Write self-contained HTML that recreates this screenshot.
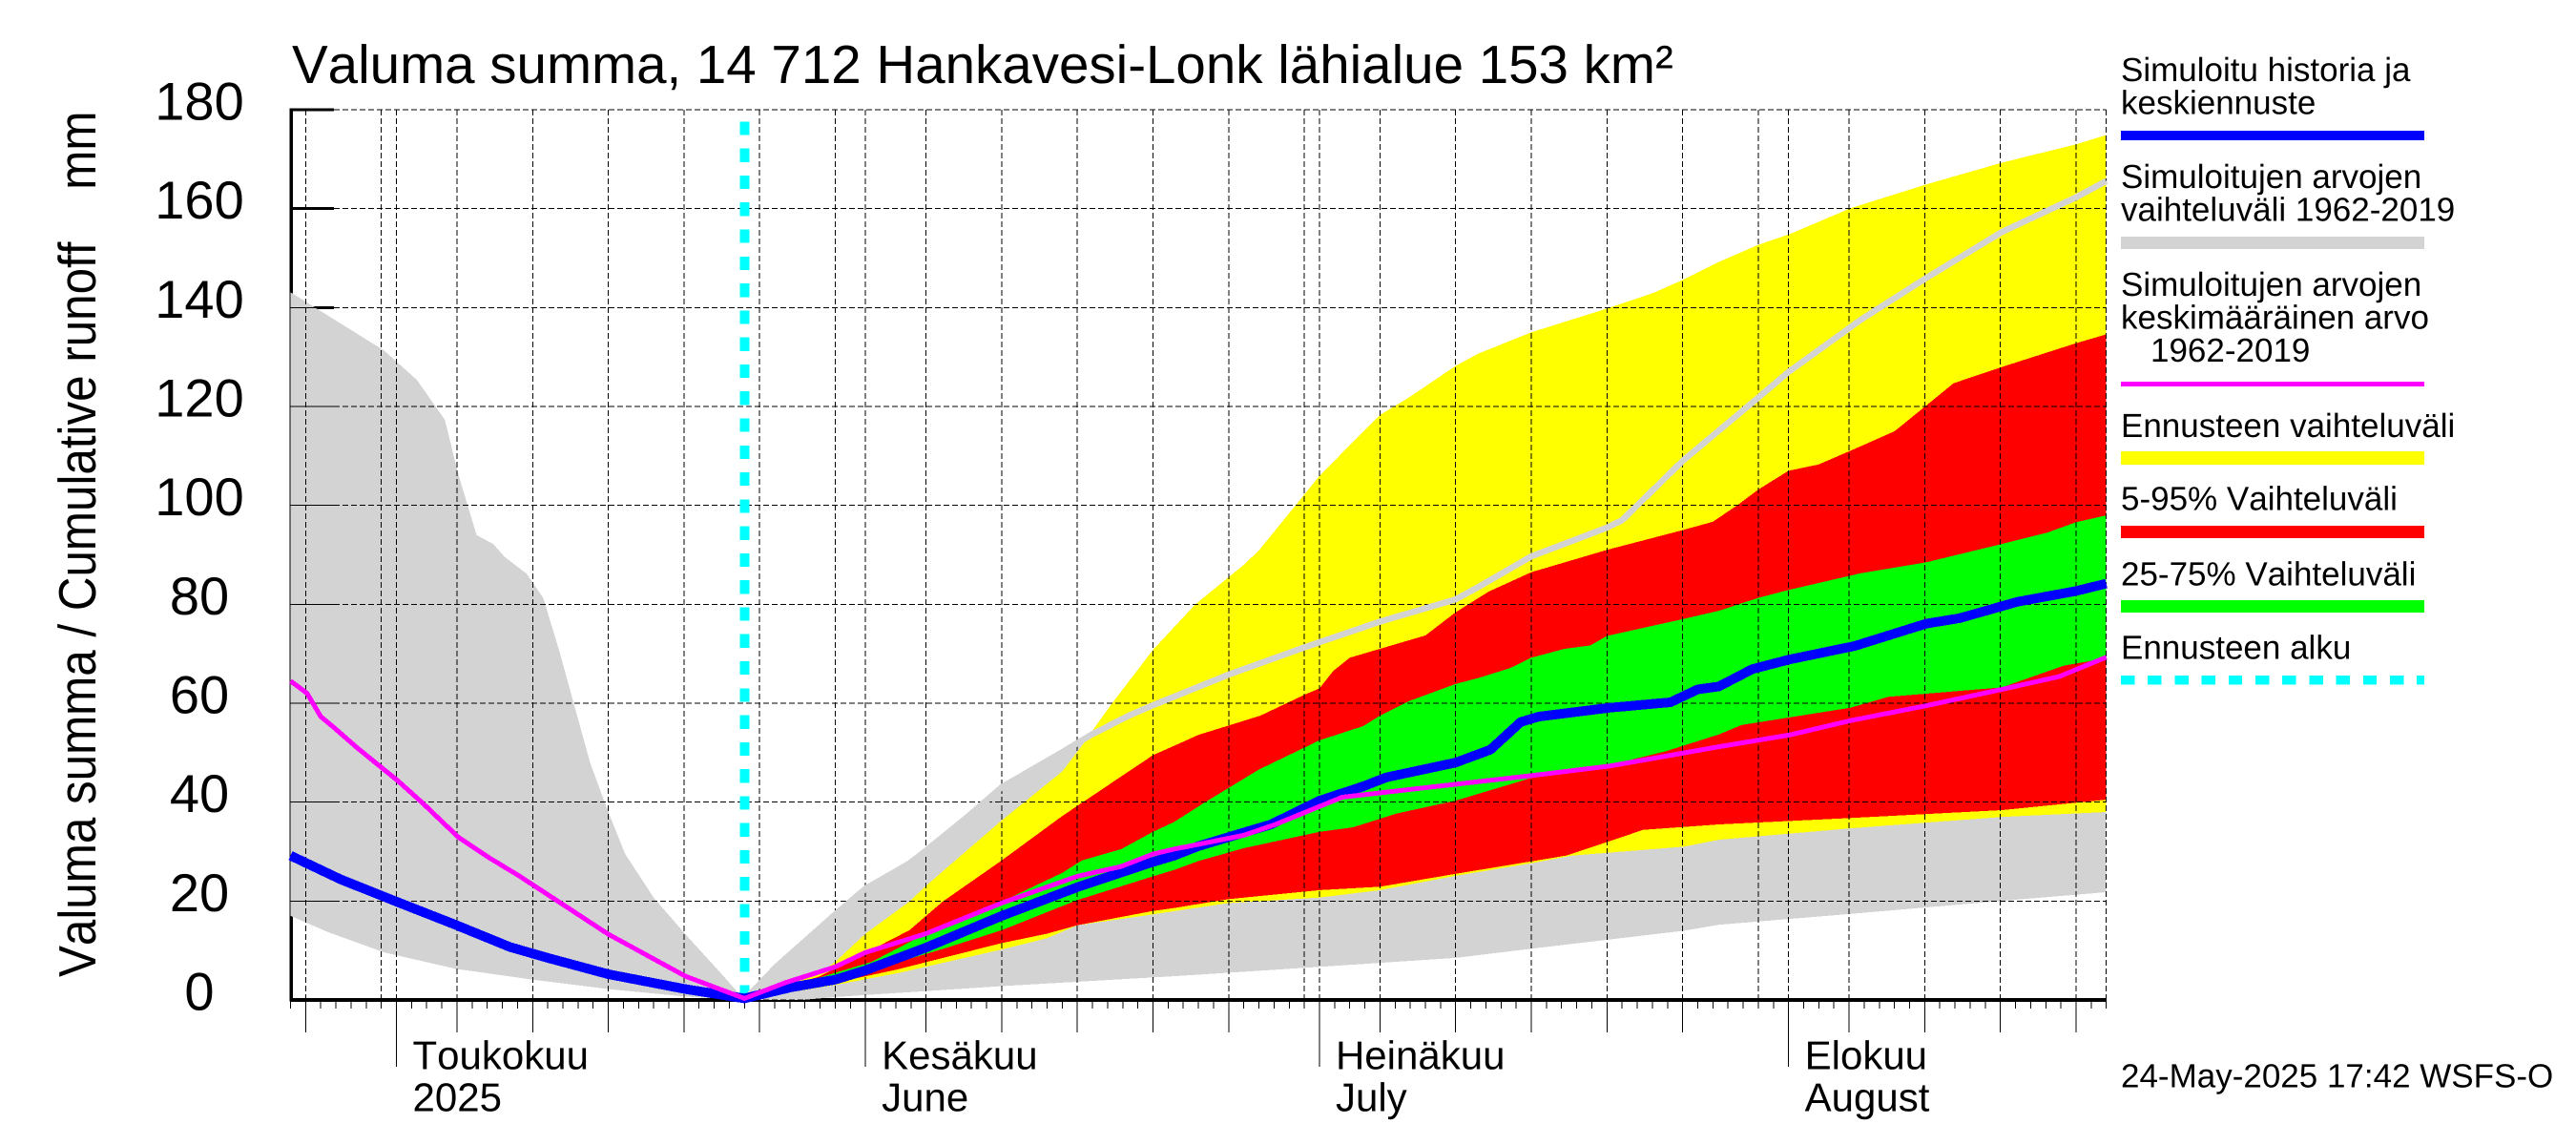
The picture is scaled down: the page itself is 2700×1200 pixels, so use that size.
<!DOCTYPE html>
<html lang="fi">
<head>
<meta charset="utf-8">
<title>Valuma summa, 14 712 Hankavesi-Lonk lähialue</title>
<style>
html,body{margin:0;padding:0;background:#fff;width:2700px;height:1200px;overflow:hidden}
svg{display:block}
text{font-family:"Liberation Sans",Arial,sans-serif;fill:#000;white-space:pre;text-rendering:geometricPrecision;font-kerning:none}
.lg{font-size:35px}
</style>
</head>
<body>
<svg id="chart" xmlns="http://www.w3.org/2000/svg" width="2700" height="1200" viewBox="0 0 2700 1200">
  <rect x="0" y="0" width="2700" height="1200" fill="#fff"/>
  <g id="axes-under"></g>
  <g id="bands"></g>
  <g id="grid"></g>
  <g id="axes-over"></g>
  <g id="lines"></g>
  <g id="labels"></g>

  <text x="306" y="87" font-size="56.5">Valuma summa, 14 712 Hankavesi-Lonk lähialue 153 km²</text>
  <text transform="translate(100,1024) rotate(-90) scale(0.897,1)" font-size="55">Valuma summa / Cumulative runoff    mm</text>

  <g shape-rendering="crispEdges">
    <g>
      <text class="lg" x="2223" y="85">Simuloitu historia ja</text>
      <text class="lg" x="2223" y="119.5">keskiennuste</text>
      <rect x="2223" y="137" width="318" height="10" fill="#0000ff"/>
    </g>
    <g>
      <text class="lg" x="2223" y="197">Simuloitujen arvojen</text>
      <text class="lg" x="2223" y="231.5">vaihteluväli 1962-2019</text>
      <rect x="2223" y="248" width="318" height="13" fill="#d3d3d3"/>
    </g>
    <g>
      <text class="lg" x="2223" y="310">Simuloitujen arvojen</text>
      <text class="lg" x="2223" y="344.5">keskimääräinen arvo</text>
      <text class="lg" x="2254" y="379">1962-2019</text>
      <rect x="2223" y="400" width="318" height="5" fill="#ff00ff"/>
    </g>
    <g>
      <text class="lg" x="2223" y="458">Ennusteen vaihteluväli</text>
      <rect x="2223" y="473" width="318" height="14" fill="#ffff00"/>
    </g>
    <g>
      <text class="lg" x="2223" y="534.5">5-95% Vaihteluväli</text>
      <rect x="2223" y="551" width="318" height="13" fill="#ff0000"/>
    </g>
    <g>
      <text class="lg" x="2223" y="613.5">25-75% Vaihteluväli</text>
      <rect x="2223" y="629" width="318" height="13" fill="#00ff00"/>
    </g>
    <g>
      <text class="lg" x="2223" y="690.5">Ennusteen alku</text>
      <line x1="2223" x2="2541" y1="712.8" y2="712.8" stroke="#00ffff" stroke-width="9.5" stroke-dasharray="14.4 13.8"/>
    </g>
  </g>
  <text class="lg" x="2223" y="1139.5">24-May-2025 17:42 WSFS-O</text>
</svg>
<script>
// Chart data: x values are days after 24 April 2025, y values are millimetres.
const yTickValues = [0, 20, 40, 60, 80, 100, 120, 140, 160, 180];
const yTickLabels = ['0', '20', '40', '60', '80', '100', '120', '140', '160', '180'];
const lastDay = 120;
const forecastStartDay = 30;
const gridDays = [1, 6, 7, 11, 16, 21, 26, 31, 36, 38, 42, 47, 52, 57, 62, 67, 68, 72, 77, 82, 87, 92, 97, 99, 103, 108, 113, 118, 120];
const longTickDays = [1, 11, 16, 21, 26, 31, 42, 47, 52, 57, 62, 72, 77, 82, 87, 92, 103, 108, 113, 118];
const monthTickDays = [7, 38, 68, 99];
const monthLabelsFi = ['Toukokuu', 'Kesäkuu', 'Heinäkuu', 'Elokuu'];
const monthLabelsEn = ['2025', 'June', 'July', 'August'];

const greyUpperDays = [0, 6.2, 8.35, 10.2, 11.1, 12.3, 13.4, 14.15, 15.6, 16.7, 17.8, 18.86, 19.8, 20.85, 22.1, 24, 26.1, 28.3, 30, 32.1, 36, 38, 40.9, 42, 44.7, 47, 51, 52.9, 55.4, 57, 62, 67, 72, 77, 78.5, 82, 87, 88, 92, 97, 99, 103.8, 108.1, 113.1, 118, 120];
const greyUpperValues = [143.1, 131.3, 125.4, 117.3, 106.2, 94, 92.2, 89.6, 86.2, 81.3, 70.2, 58.4, 48, 39.2, 29.6, 20.7, 13.3, 5.9, 0, 6.7, 17.3, 22.5, 27.6, 30.2, 36.9, 43, 50.1, 53.6, 57.5, 59.6, 65.8, 71.3, 76.5, 81, 83.5, 89.7, 95.5, 97, 109, 121.8, 127, 137.6, 146, 155.3, 162.3, 165.6];
const greyLowerDays = [0, 2.5, 6.2, 10.9, 16, 21, 26.1, 30, 33.8, 36, 47, 58.4, 68, 77, 82.1, 92.1, 94.4, 103.1, 113, 120];
const greyLowerValues = [17, 13.7, 9.6, 6.3, 4.1, 2.2, 0.7, 0, 0, 0.6, 2.8, 4.8, 6.7, 8.5, 10.4, 14, 15.2, 17.4, 20, 21.8];

const yellowUpperDays = [30, 34.8, 36, 38, 40.9, 42, 47, 51, 52.3, 53.7, 54.4, 57, 59.8, 62, 63, 64, 67, 68, 72, 73.9, 77, 78.5, 82, 87, 90.1, 92, 94.3, 97, 99.1, 103.1, 108.1, 113.1, 118, 120];
const yellowUpperValues = [0, 5.1, 7.7, 13.4, 19.9, 23.1, 36.3, 46.2, 51.4, 57.5, 60.4, 70.8, 80, 85.5, 88, 90.9, 102.2, 106, 118.3, 121.8, 128.2, 130.7, 135, 139.8, 143, 145.6, 149.1, 152.7, 154.9, 160.1, 164.9, 169.3, 173, 174.9];
const yellowLowerDays = [30, 36.3, 40.1, 47, 50, 52, 57, 62, 68, 72, 77, 82.1, 84.7, 92.1, 94.4, 103.1, 113.1, 120];
const yellowLowerValues = [0, 3.2, 5.4, 10.2, 12.5, 15.1, 17.3, 19.6, 20.7, 22.2, 25.1, 27.7, 29.2, 31, 32.4, 34.7, 37, 38];

const redUpperDays = [30, 35, 40.9, 43.1, 47, 51, 57, 58.4, 60, 64.1, 67, 68, 68.9, 70, 72, 75, 77, 79.2, 82, 87, 92, 94, 95.6, 97, 99, 101, 103.8, 106, 108.1, 109.9, 113.1, 118, 120];
const redUpperValues = [0, 4.8, 14.1, 19.9, 28.2, 37.2, 49.5, 51.4, 53.6, 57.5, 61.7, 63, 66.5, 69.2, 71, 73.7, 78.4, 82.6, 86.5, 91, 95, 96.7, 100, 103.2, 107, 108.3, 112, 115, 120.2, 124.7, 128, 132.8, 134.6];
const redLowerDays = [30, 36, 40, 47, 50, 52, 57, 58.4, 62, 68, 72, 77, 84.3, 89.4, 94.4, 103.1, 113.1, 120];
const redLowerValues = [0, 3.5, 6.1, 11.5, 13.4, 15.1, 18, 18.6, 20.4, 22.2, 22.9, 25.5, 29.2, 34.4, 35.5, 36.8, 38.4, 40.5];

const greenUpperDays = [30, 38.4, 42.6, 47, 51, 52.3, 54.9, 57, 58.4, 60.4, 64, 68, 70.9, 72, 73.9, 77, 78.5, 80.6, 82, 84.2, 85.9, 87, 92, 94.4, 97, 99, 103.8, 108.1, 113.1, 116.1, 118, 120];
const greenUpperValues = [0, 7.7, 14.4, 19.9, 25.7, 28.2, 30.5, 34, 36, 39.9, 46.6, 52.5, 55.4, 57.5, 60.4, 63.9, 65.1, 67.1, 69.2, 71, 71.7, 73.6, 77, 78.7, 81.3, 82.9, 86.3, 88.5, 92.2, 94.5, 96.6, 98];
const greenLowerDays = [30, 38.4, 43.4, 47, 52, 57, 58.4, 60, 63, 68, 70.2, 73.1, 77, 82.1, 86.9, 90.9, 94.4, 95.9, 103.1, 105.6, 113.1, 117.2, 120];
const greenLowerValues = [0, 6, 10.6, 14.1, 20.2, 25, 26.3, 28.1, 30.7, 34, 34.9, 37.7, 40.3, 45, 47.3, 50.3, 53.7, 55.6, 59.1, 61.3, 63.2, 67.6, 69.1];

const blueDays = [0, 3.3, 6.9, 10.9, 14.5, 17, 21, 26.1, 30, 33, 36, 38, 42, 47, 52, 57, 58.4, 60, 64.8, 68, 70.9, 72.4, 77, 79.3, 81.3, 82.5, 87.2, 91.2, 93, 94.4, 96.6, 99, 103.4, 108.1, 110.3, 114.1, 118, 120];
const blueValues = [29.2, 24.4, 20, 15.2, 10.7, 8.5, 5.2, 2.2, 0.3, 2.5, 4.1, 6, 10.6, 17, 22.8, 27.9, 29.2, 31.1, 35.5, 40.3, 43.2, 45, 48, 50.6, 56.2, 57.3, 59.1, 60.2, 62.8, 63.4, 66.9, 68.8, 71.6, 76.1, 77.2, 80.5, 82.7, 84.2];
const magentaDays = [0, 1.1, 2, 2.9, 4.4, 7.1, 8.7, 11.1, 13.1, 15.1, 17.1, 21, 26.1, 30, 32.7, 36, 38, 42, 47, 52, 54.9, 57, 58.4, 63, 65.1, 69.5, 73.8, 82.1, 87.2, 94.4, 99.1, 103.1, 108.1, 113.1, 116.9, 120];
const magentaValues = [64.5, 62, 57.3, 55, 51, 44.3, 39.9, 32.9, 28.8, 25.1, 21.1, 13.3, 4.8, 0.3, 3.5, 6.7, 9.6, 13.4, 19.6, 25, 27, 29.5, 30.5, 33.3, 35.5, 41, 42.5, 45.4, 47.3, 51.2, 53.6, 56.5, 59.5, 62.8, 65.4, 69.3];

const SVG_NS = 'http://www.w3.org/2000/svg';
const xScale = function (day) { return 304.5 + 15.86 * day; };
const yScale = function (mm) { return 1048 - 5.183 * mm; };
const axisLeft = xScale(0);
const axisRight = xScale(lastDay);
const axisBottom = yScale(0);
const axisTop = yScale(180);

function make(tag, parent, attrs) {
  const node = document.createElementNS(SVG_NS, tag);
  for (const key in attrs) node.setAttribute(key, attrs[key]);
  parent.appendChild(node);
  return node;
}
function pointList(days, values) {
  return days.map(function (d, i) { return xScale(d).toFixed(1) + ',' + yScale(values[i]).toFixed(1); });
}
function bandPoints(upperDays, upperValues, lowerDays, lowerValues) {
  return pointList(upperDays, upperValues).concat(pointList(lowerDays, lowerValues).reverse()).join(' ');
}

const axesUnder = document.getElementById('axes-under');
const bands = document.getElementById('bands');
const grid = document.getElementById('grid');
const axesOver = document.getElementById('axes-over');
const lines = document.getElementById('lines');
const labels = document.getElementById('labels');

// Heavy axis lines sit beneath the filled bands.
const leftAxis = make('rect', axesUnder, { x: 303.5, y: axisTop - 1.5, width: 3.5, height: axisBottom - axisTop + 3, fill: '#000', 'shape-rendering': 'crispEdges' });


const bottomAxis = make('rect', axesUnder, { x: 304, y: axisBottom - 2, width: axisRight - 304, height: 4, fill: '#000', 'shape-rendering': 'crispEdges' });


yTickValues.forEach(function (v) {
  const tick = make('rect', axesUnder, { x: 304, y: yScale(v) - 1.5, width: 46, height: 3, fill: '#000', 'shape-rendering': 'crispEdges' });
  
  
});

// Filled ranges.
const greyBand = make('polygon', bands, { points: bandPoints(greyUpperDays, greyUpperValues, greyLowerDays, greyLowerValues), fill: '#d3d3d3', 'shape-rendering': 'crispEdges' });


const yellowBand = make('polygon', bands, { points: bandPoints(yellowUpperDays, yellowUpperValues, yellowLowerDays, yellowLowerValues), fill: '#ffff00', 'shape-rendering': 'crispEdges' });


const redBand = make('polygon', bands, { points: bandPoints(redUpperDays, redUpperValues, redLowerDays, redLowerValues), fill: '#ff0000', 'shape-rendering': 'crispEdges' });


const greenBand = make('polygon', bands, { points: bandPoints(greenUpperDays, greenUpperValues, greenLowerDays, greenLowerValues), fill: '#00ff00', 'shape-rendering': 'crispEdges' });



// Dashed grid.
yTickValues.forEach(function (v) {
  const gridLine = make('line', grid, { x1: 350, x2: axisRight, y1: yScale(v), y2: yScale(v), stroke: '#000', 'stroke-width': 1, 'stroke-dasharray': '6 3', 'shape-rendering': 'crispEdges' });
  
  
});
gridDays.forEach(function (d) {
  const gridLine = make('line', grid, { x1: xScale(d), x2: xScale(d), y1: axisTop, y2: axisBottom, stroke: '#000', 'stroke-width': 1, 'stroke-dasharray': '6 3', 'shape-rendering': 'crispEdges' });
  
  
});

// Ticks.
const thinLeft = make('line', axesOver, { x1: 304, x2: 304, y1: axisTop, y2: axisBottom, stroke: '#000', 'stroke-width': 1, 'shape-rendering': 'crispEdges' });


yTickValues.forEach(function (v) {
  const tick = make('line', axesOver, { x1: 304, x2: 350, y1: yScale(v), y2: yScale(v), stroke: '#000', 'stroke-width': 1, 'shape-rendering': 'crispEdges' });
  
  
});
for (let d = 0; d <= lastDay; d++) {
  const tick = make('line', axesOver, { x1: xScale(d), x2: xScale(d), y1: axisBottom, y2: 1057, stroke: '#000', 'stroke-width': 1, 'shape-rendering': 'crispEdges' });
  
  
}
longTickDays.forEach(function (d) {
  const tick = make('line', axesOver, { x1: xScale(d), x2: xScale(d), y1: axisBottom, y2: 1082, stroke: '#000', 'stroke-width': 1, 'shape-rendering': 'crispEdges' });
  
  
});
monthTickDays.forEach(function (d) {
  const tick = make('line', axesOver, { x1: xScale(d), x2: xScale(d), y1: axisBottom, y2: 1118, stroke: '#000', 'stroke-width': 1, 'shape-rendering': 'crispEdges' });
  
  
});

// Forecast start marker and series lines.
const startLine = make('line', lines, { x1: xScale(forecastStartDay), x2: xScale(forecastStartDay), y1: 127.4, y2: axisBottom - 3, stroke: '#00ffff', 'stroke-width': 10, 'stroke-dasharray': '14.2 14.08', 'shape-rendering': 'crispEdges' });



const greyLineDays = greyUpperDays.filter(function (d) { return d >= forecastStartDay; });
const greyLineValues = greyUpperValues.filter(function (v, i) { return greyUpperDays[i] >= forecastStartDay; });
const greyLine = make('polyline', lines, { points: pointList(greyLineDays, greyLineValues).join(' '), fill: 'none', stroke: '#d3d3d3', 'stroke-width': 6.5, 'stroke-linejoin': 'round', 'shape-rendering': 'crispEdges' });


const blueLine = make('polyline', lines, { points: pointList(blueDays, blueValues).join(' '), fill: 'none', stroke: '#0000ff', 'stroke-width': 10, 'stroke-linejoin': 'round', 'shape-rendering': 'crispEdges' });


const magentaLine = make('polyline', lines, { points: pointList(magentaDays, magentaValues).join(' '), fill: 'none', stroke: '#ff00ff', 'stroke-width': 5, 'stroke-linejoin': 'round', 'shape-rendering': 'crispEdges' });



// Tick labels.
yTickValues.forEach(function (v, i) {
  const label = make('text', labels, { x: 209, y: yScale(v) + 10.5, 'font-size': 56, 'text-anchor': 'middle' });
  label.textContent = yTickLabels[i];
  
  
});
monthTickDays.forEach(function (d, i) {
  const fi = make('text', labels, { x: xScale(d) + 17, y: 1120.5, 'font-size': 42 });
  fi.textContent = monthLabelsFi[i];
  
  
  const en = make('text', labels, { x: xScale(d) + 17, y: 1164.5, 'font-size': 42 });
  en.textContent = monthLabelsEn[i];
  
  
});
</script>
</body>
</html>
